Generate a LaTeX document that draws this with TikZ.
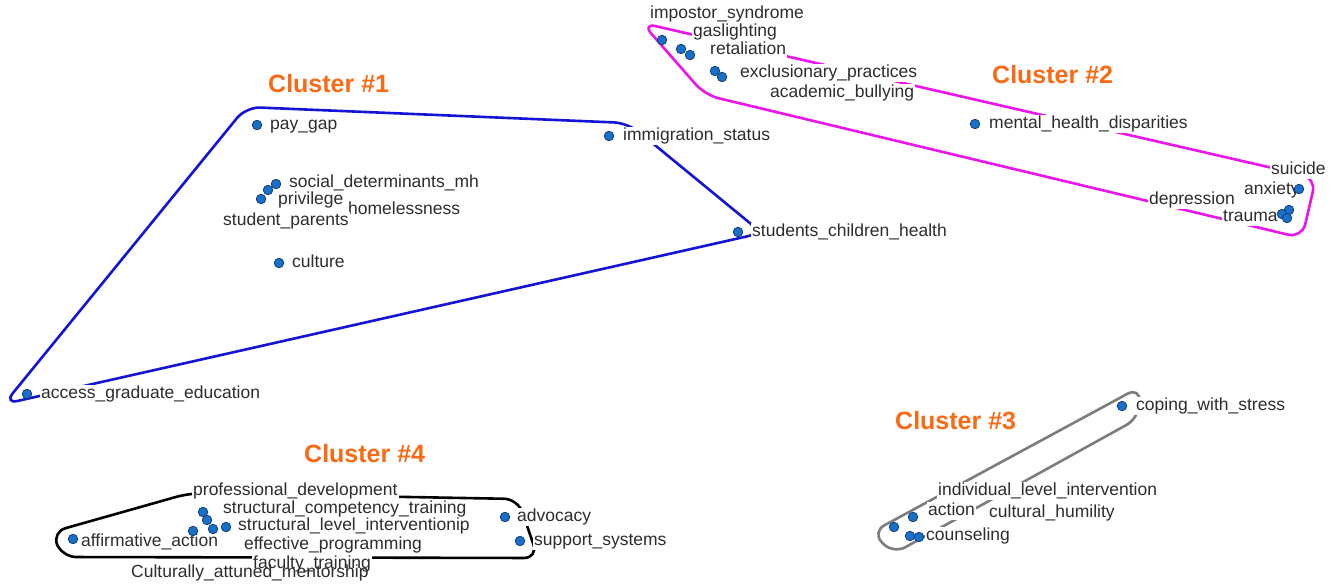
\documentclass[tikz,border=0pt]{standalone}
\usepackage{fontspec}
\setmainfont{Liberation Sans}
\definecolor{dotblue}{RGB}{24,112,200}
\definecolor{dotedge}{RGB}{20,60,120}
\definecolor{labelgray}{RGB}{45,45,45}
\definecolor{orangec}{RGB}{250,105,20}
\definecolor{hullblue}{RGB}{20,20,215}
\definecolor{hullpink}{RGB}{235,20,235}
\definecolor{hullgray}{RGB}{125,125,125}
\tikzset{
  lbl/.style={font=\fontsize{17.5}{20}\selectfont, text=labelgray, anchor=west, inner sep=1pt, text height=12.5pt, text depth=3.5pt, fill=white},
  lblnofill/.style={lbl, fill=none},
  dotnode/.style={circle, draw=dotedge, fill=dotblue, line width=0.8pt, minimum size=9.5pt, inner sep=0pt},
  ctitle/.style={font=\fontsize{25}{28}\selectfont\bfseries, text=orangec, anchor=west, inner sep=0pt},
  hull/.style={line width=2.6pt, rounded corners=14pt, line join=round},
}
\begin{document}
\begin{tikzpicture}[x=1pt,y=-1pt]
\useasboundingbox[fill=white] (0,0) rectangle (1342,586);

% ---------- hulls ----------
\draw[hull, hullblue] (246,107) -- (628,123) -- (762,233) -- (4,404) -- cycle;
\draw[hull, hullpink] (642,23) -- (1316,178) -- (1302,238) -- (705,95) -- cycle;
\draw[hull, hullgray] (1140,387) -- (1139,418) -- (893,554) -- (872,532) -- cycle;
\draw[hull, black] (190,493) -- (518,499) -- (538,558) -- (62,557) -- (52,532) -- cycle;

% ---------- titles ----------
\node[ctitle] (t1) at (268,84) {Cluster \#1};
\node[ctitle] (t2) at (992,75) {Cluster \#2};
\node[ctitle] (t3) at (895,421) {Cluster \#3};
\node[ctitle] (t4) at (304,454) {Cluster \#4};

% ---------- cluster 1 ----------
\node[lbl] (l_pay) at (269,125) {pay\_gap};
\node[lbl] (l_imm) at (622,136) {immigration\_status};
\node[lbl] (l_sdm) at (288,183) {social\_determinants\_mh};
\node[lbl] (l_priv) at (277,200) {privilege};
\node[lbl] (l_home) at (347,210) {homelessness};
\node[lbl] (l_stp) at (222,221) {student\_parents};
\node[lbl] (l_cul) at (291,263) {culture};
\node[lbl] (l_sch) at (751,232) {students\_children\_health};
\node[lbl] (l_acc) at (40,394) {access\_graduate\_education};
\node[dotnode] (d_pay) at (257,125) {};
\node[dotnode] (d_imm) at (609,136) {};
\node[dotnode] (d_sdm) at (276,184) {};
\node[dotnode] (d_priv) at (268,190) {};
\node[dotnode] (d_stp) at (261,199) {};
\node[dotnode] (d_cul) at (279,263) {};
\node[dotnode] (d_sch) at (738,232) {};
\node[dotnode] (d_acc) at (27,394) {};

% ---------- cluster 2 ----------
\node[lbl] (l_imp) at (649,14) {impostor\_syndrome};
\node[lbl] (l_gas) at (692,32) {gaslighting};
\node[lbl] (l_ret) at (709,50) {retaliation};
\node[lbl] (l_exc) at (739,73) {exclusionary\_practices};
\node[lbl] (l_aca) at (769,93) {academic\_bullying};
\node[lbl] (l_mhd) at (988,124) {mental\_health\_disparities};
\node[lbl] (l_sui) at (1270,170) {suicide};
\node[lbl] (l_dep) at (1148,200) {depression};
\node[lbl] (l_anx) at (1243,190) {anxiety};
\node[lbl] (l_tra) at (1222,217) {trauma};
\node[dotnode] (d_imp) at (662,40) {};
\node[dotnode] (d_gas) at (681,49) {};
\node[dotnode] (d_ret) at (690,55) {};
\node[dotnode] (d_exc) at (715,71) {};
\node[dotnode] (d_aca) at (722,77) {};
\node[dotnode] (d_mhd) at (975,124) {};
\node[dotnode] (d_anx) at (1299,189) {};
\node[dotnode] (d_sui) at (1289,210) {};
\node[dotnode] (d_dep) at (1282,214) {};
\node[dotnode] (d_tra) at (1287,218) {};

% ---------- cluster 3 ----------
\node[lbl] (l_cws) at (1135,406) {coping\_with\_stress};
\node[lbl] (l_ind) at (937,491) {individual\_level\_intervention};
\node[lbl] (l_act) at (927,511) {action};
\node[lbl] (l_chu) at (988,513) {cultural\_humility};
\node[lbl] (l_cou) at (925,536) {counseling};
\node[dotnode] (d_cws) at (1122,406) {};
\node[dotnode] (d_act) at (913,517) {};
\node[dotnode] (d_ind) at (894,527) {};
\node[dotnode] (d_chu) at (910,536) {};
\node[dotnode] (d_cou) at (919,537) {};

% ---------- cluster 4 ----------
\node[lbl] (l_pro) at (192,491) {professional\_development};
\node[lbl] (l_sct) at (222,509) {structural\_competency\_training};
\node[lbl] (l_sli) at (237,526) {structural\_level\_interventionip};
\node[lbl] (l_aff) at (80,542) {affirmative\_action};
\node[lbl] (l_eff) at (243,545) {effective\_programming};
\node[lbl] (l_fac) at (252,564) {faculty\_training};
\node[lblnofill] (l_cam) at (130,573) {Culturally\_attuned\_mentorship};
\node[lbl] (l_adv) at (516,517) {advocacy};
\node[lbl] (l_sup) at (533,541) {support\_systems};
\node[dotnode] (d_pro) at (203,512) {};
\node[dotnode] (d_sct) at (207,520) {};
\node[dotnode] (d_sli) at (213,529) {};
\node[dotnode] (d_eff) at (226,527) {};
\node[dotnode] (d_fac) at (193,531) {};
\node[dotnode] (d_aff) at (73,539) {};
\node[dotnode] (d_adv) at (505,517) {};
\node[dotnode] (d_sup) at (520,541) {};
\end{tikzpicture}
\end{document}
